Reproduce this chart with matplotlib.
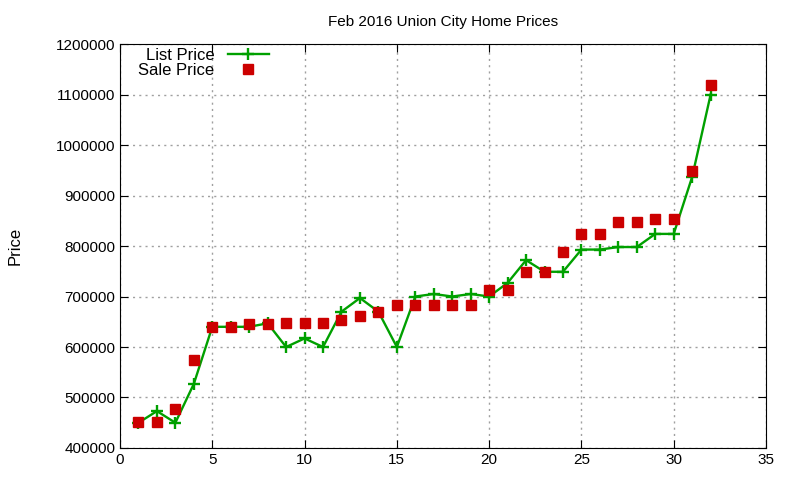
import matplotlib
matplotlib.use('Agg')
import matplotlib.pyplot as plt

plt.rcParams['font.family'] = ['Liberation Sans', 'DejaVu Sans']

# house index, list and sale prices
homes = list(range(1, 33))
list_price = [450000, 473000, 450000, 527000, 640000, 640000, 640000, 647000,
              600000, 617000, 600000, 670000, 697000, 670000, 600000, 700000,
              705000, 700000, 705000, 700000, 727000, 772000, 749000, 749000,
              793000, 793000, 798000, 798000, 824000, 824000, 937000, 1100000]
sale_price = [452000, 452000, 478000, 574000, 640000, 640000, 645000, 645000,
              648000, 648000, 648000, 653000, 661000, 670000, 683000, 683000,
              683000, 683000, 683000, 713000, 713000, 749000, 749000, 789000,
              824000, 824000, 847000, 847000, 853000, 853000, 948000, 1119000]

fig = plt.figure(figsize=(8, 4.8), dpi=100)
ax = fig.add_axes([0.15, 0.0667, 0.8075, 0.8415])

ax.plot(homes, list_price, color='#00a000', lw=1.7, marker='+', ms=8, mew=1.7,
        label='List Price')
ax.plot(homes, sale_price, color='#cc0000', ls='none', marker='s', ms=7,
        label='Sale Price')

ax.set_xlim(0, 35)
ax.set_ylim(400000, 1200000)
ax.set_xticks(range(0, 36, 5))
ax.set_yticks(range(400000, 1200001, 100000))
ax.ticklabel_format(style='plain', axis='y', useOffset=False)
ax.tick_params(direction='in', top=True, right=True, labelsize=11, length=6)
ax.grid(True, color='#a0a0a0', ls=(0, (1.5, 3)), lw=1)

ax.set_title('Feb 2016 Union City Home Prices', fontsize=11, pad=13)
ax.set_ylabel('Price', fontsize=12, labelpad=24)

ax.legend(loc='upper left', bbox_to_anchor=(0.01, 1.02), frameon=False,
          markerfirst=False, fontsize=12, handlelength=2.5,
          labelspacing=0.0, borderaxespad=0.3)

fig.savefig('out.png', dpi=100)
